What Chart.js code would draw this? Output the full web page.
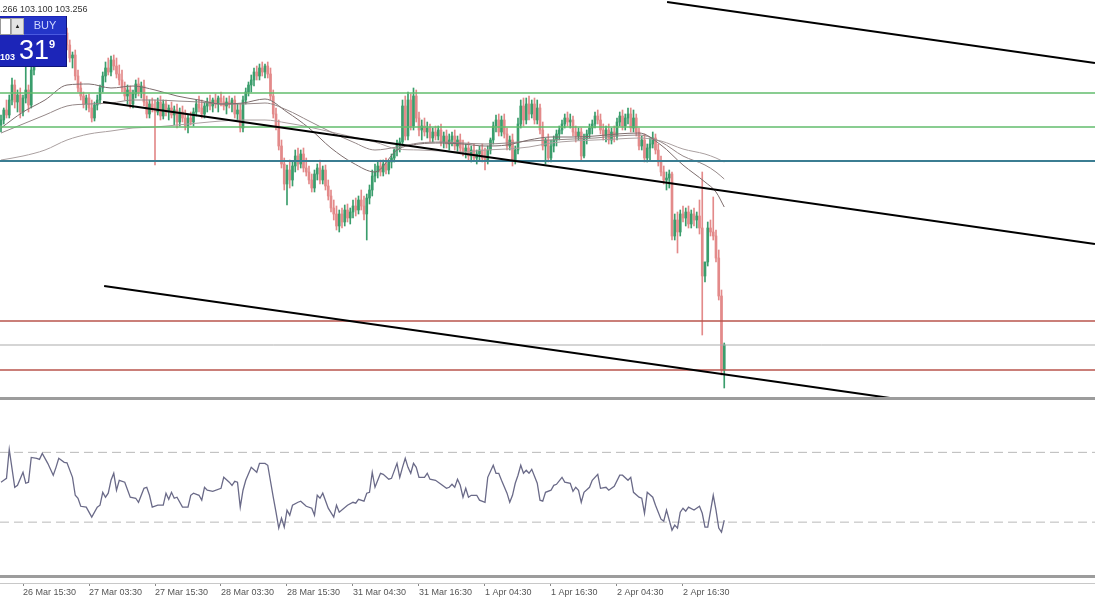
<!DOCTYPE html>
<html>
<head>
<meta charset="utf-8">
<script src="https://cdn.jsdelivr.net/npm/chart.js@4.4.1/dist/chart.umd.min.js"></script>
<style>
  body { margin: 0; background: #fff; width: 1095px; height: 600px; overflow: hidden; position: relative; font-family: 'Liberation Sans', Arial, sans-serif; }
  #main { position: absolute; left: 0; top: 0; }
  #osc { position: absolute; left: 0; top: 400px; }
  .hdr { position: absolute; left: 0; top: 4px; font-size: 9px; color: #333; white-space: nowrap; }
  .trade { position: absolute; left: 0; top: 16px; width: 66px; height: 50px; background: #1c25b8; border-right: 1px solid #0e1478; border-bottom: 1px solid #0e1478; overflow: hidden; }
  .lot { position: absolute; left: 0; top: 2px; width: 9px; height: 15px; background: #fff; border: 1px solid #999; }
  .spin { position: absolute; left: 11px; top: 2px; width: 11px; height: 15px; background: #e4e4e4; border: 1px solid #aaa; font-size: 6px; line-height: 15px; text-align: center; color: #222; }
  .buy { position: absolute; left: 24px; top: 1px; width: 42px; height: 17px; background: #2435c8; border-bottom: 1px solid #4a5ae0; color: #d0d8ff; font-size: 11px; line-height: 17px; text-align: center; }
  .p1 { position: absolute; left: 0; top: 36px; color: #fff; font-size: 9px; font-weight: bold; }
  .p2 { position: absolute; left: 19px; top: 19px; color: #fff; font-size: 27px; }
  .p3 { position: absolute; left: 49px; top: 22px; color: #fff; font-size: 11px; font-weight: bold; }
</style>
</head>
<body>
<canvas id="main" width="1095" height="400"></canvas>
<canvas id="osc" width="1095" height="200"></canvas>
<div class="hdr">.266 103.100 103.256</div>
<div class="trade">
  <div class="lot"></div>
  <div class="spin">&#9650;</div>
  <div class="buy">BUY</div>
  <div class="p1">103</div>
  <div class="p2">31</div>
  <div class="p3">9</div>
</div>
<script>
// ===== PRICE DATA (30 min candles, index = bar number) =====
const opens = [
  102.900, 102.920, 102.960, 102.940, 103.000, 103.060, 102.992, 103.020, 102.952, 103.008,
  103.040, 102.980, 103.120, 103.180, 103.208, 103.192, 103.232, 103.216, 103.256, 103.240,
  103.264, 103.280, 103.260, 103.280, 103.268, 103.220, 103.168, 103.180, 103.096, 103.048,
  103.016, 102.984, 103.008, 102.968, 102.928, 102.980, 103.000, 103.048, 103.096, 103.128,
  103.112, 103.160, 103.136, 103.104, 103.080, 103.048, 103.016, 103.040, 102.984, 103.024,
  103.064, 103.032, 103.056, 102.992, 102.944, 102.984, 102.968, 102.952, 102.992, 102.936,
  102.984, 102.952, 102.968, 102.940, 102.960, 102.912, 102.952, 102.928, 102.896, 102.928,
  102.912, 102.952, 102.984, 102.968, 102.944, 102.976, 102.992, 102.976, 103.000, 102.984,
  103.008, 102.992, 102.976, 102.992, 102.984, 103.000, 102.944, 102.960, 102.888, 103.000,
  103.032, 103.060, 103.080, 103.112, 103.096, 103.128, 103.112, 103.136, 103.104, 103.016,
  102.944, 102.896, 102.816, 102.744, 102.664, 102.720, 102.680, 102.736, 102.776, 102.744,
  102.784, 102.728, 102.712, 102.680, 102.648, 102.704, 102.728, 102.680, 102.720, 102.656,
  102.616, 102.568, 102.544, 102.496, 102.544, 102.512, 102.560, 102.528, 102.552, 102.576,
  102.560, 102.600, 102.576, 102.544, 102.608, 102.640, 102.696, 102.712, 102.736, 102.712,
  102.744, 102.720, 102.752, 102.768, 102.800, 102.820, 102.832, 102.976, 102.856, 103.000,
  102.896, 103.016, 102.928, 102.880, 102.896, 102.872, 102.888, 102.848, 102.872, 102.856,
  102.880, 102.832, 102.856, 102.824, 102.840, 102.856, 102.816, 102.840, 102.808, 102.792,
  102.808, 102.776, 102.800, 102.768, 102.784, 102.800, 102.768, 102.760, 102.800, 102.840,
  102.896, 102.920, 102.872, 102.920, 102.864, 102.816, 102.840, 102.760, 102.800, 102.904,
  102.976, 102.920, 102.984, 102.944, 102.984, 102.920, 102.968, 102.880, 102.816, 102.840,
  102.768, 102.816, 102.840, 102.864, 102.880, 102.904, 102.928, 102.912, 102.920, 102.872,
  102.856, 102.872, 102.776, 102.848, 102.864, 102.888, 102.904, 102.936, 102.920, 102.880,
  102.856, 102.880, 102.840, 102.872, 102.856, 102.912, 102.936, 102.896, 102.928, 102.944,
  102.888, 102.928, 102.872, 102.816, 102.840, 102.768, 102.808, 102.824, 102.848, 102.800,
  102.752, 102.712, 102.680, 102.688, 102.704, 102.456, 102.520, 102.472, 102.544, 102.528,
  102.552, 102.504, 102.544, 102.520, 102.536, 102.488, 102.296, 102.352, 102.488, 102.472,
  102.456, 102.368, 102.216, 101.920
];
const highs = [
  102.940, 102.968, 103.000, 103.020, 103.088, 103.080, 103.040, 103.048, 103.020, 103.148,
  103.060, 103.160, 103.200, 103.220, 103.240, 103.248, 103.260, 103.280, 103.288, 103.280,
  103.300, 103.312, 103.296, 103.304, 103.288, 103.240, 103.192, 103.200, 103.120, 103.072,
  103.032, 103.020, 103.024, 103.000, 102.992, 103.020, 103.060, 103.112, 103.152, 103.168,
  103.176, 103.180, 103.168, 103.140, 103.120, 103.072, 103.060, 103.056, 103.040, 103.080,
  103.088, 103.072, 103.080, 103.016, 103.000, 103.008, 103.000, 103.008, 103.016, 103.000,
  103.000, 102.980, 102.992, 102.976, 102.984, 102.968, 102.976, 102.960, 102.940, 102.952,
  102.968, 103.000, 103.016, 103.000, 102.992, 103.008, 103.020, 103.008, 103.024, 103.016,
  103.032, 103.016, 103.008, 103.016, 103.008, 103.016, 102.984, 102.984, 103.016, 103.048,
  103.072, 103.100, 103.128, 103.136, 103.144, 103.152, 103.144, 103.152, 103.128, 103.040,
  102.968, 102.920, 102.840, 102.768, 102.740, 102.760, 102.752, 102.800, 102.808, 102.800,
  102.808, 102.768, 102.736, 102.704, 102.720, 102.744, 102.760, 102.736, 102.740, 102.680,
  102.640, 102.600, 102.576, 102.560, 102.568, 102.580, 102.584, 102.568, 102.600, 102.608,
  102.616, 102.640, 102.616, 102.624, 102.660, 102.720, 102.744, 102.752, 102.760, 102.760,
  102.768, 102.760, 102.784, 102.808, 102.840, 102.848, 103.000, 103.016, 103.032, 103.024,
  103.048, 103.040, 102.952, 102.920, 102.928, 102.912, 102.904, 102.888, 102.896, 102.896,
  102.904, 102.872, 102.880, 102.864, 102.872, 102.880, 102.856, 102.864, 102.840, 102.824,
  102.832, 102.816, 102.824, 102.800, 102.816, 102.824, 102.808, 102.816, 102.848, 102.912,
  102.940, 102.944, 102.936, 102.944, 102.888, 102.856, 102.864, 102.816, 102.928, 103.000,
  103.008, 103.008, 103.016, 103.000, 103.008, 103.000, 102.984, 102.912, 102.848, 102.864,
  102.840, 102.856, 102.880, 102.896, 102.920, 102.944, 102.952, 102.944, 102.936, 102.896,
  102.888, 102.888, 102.864, 102.880, 102.904, 102.920, 102.952, 102.960, 102.944, 102.904,
  102.896, 102.904, 102.888, 102.896, 102.928, 102.952, 102.960, 102.944, 102.968, 102.968,
  102.960, 102.944, 102.888, 102.856, 102.864, 102.824, 102.848, 102.872, 102.864, 102.824,
  102.776, 102.736, 102.712, 102.720, 102.712, 102.544, 102.552, 102.560, 102.576, 102.568,
  102.576, 102.560, 102.568, 102.552, 102.600, 102.712, 102.352, 102.512, 102.520, 102.612,
  102.480, 102.400, 102.240, 102.028
];
const lows = [
  102.872, 102.904, 102.928, 102.928, 102.980, 102.968, 102.952, 102.928, 102.936, 102.988,
  102.952, 102.968, 103.100, 103.152, 103.168, 103.176, 103.200, 103.192, 103.220, 103.208,
  103.240, 103.248, 103.232, 103.248, 103.200, 103.152, 103.128, 103.080, 103.032, 103.000,
  102.968, 102.960, 102.952, 102.912, 102.916, 102.960, 102.984, 103.032, 103.072, 103.100,
  103.096, 103.120, 103.088, 103.060, 103.032, 103.000, 102.984, 102.968, 102.968, 103.008,
  103.016, 103.008, 102.976, 102.928, 102.928, 102.952, 102.740, 102.940, 102.920, 102.924,
  102.936, 102.920, 102.928, 102.900, 102.888, 102.896, 102.912, 102.880, 102.868, 102.900,
  102.896, 102.936, 102.952, 102.928, 102.928, 102.952, 102.960, 102.952, 102.968, 102.952,
  102.976, 102.960, 102.944, 102.968, 102.952, 102.928, 102.920, 102.872, 102.872, 102.984,
  103.016, 103.032, 103.056, 103.080, 103.080, 103.096, 103.088, 103.088, 103.000, 102.928,
  102.880, 102.800, 102.728, 102.640, 102.580, 102.648, 102.656, 102.712, 102.720, 102.728,
  102.712, 102.696, 102.664, 102.632, 102.632, 102.680, 102.664, 102.664, 102.640, 102.600,
  102.552, 102.520, 102.480, 102.472, 102.488, 102.496, 102.512, 102.504, 102.528, 102.536,
  102.544, 102.560, 102.520, 102.440, 102.584, 102.616, 102.672, 102.688, 102.696, 102.696,
  102.704, 102.704, 102.728, 102.752, 102.776, 102.792, 102.816, 102.840, 102.840, 102.880,
  102.880, 102.912, 102.856, 102.840, 102.856, 102.848, 102.832, 102.832, 102.840, 102.840,
  102.816, 102.808, 102.808, 102.800, 102.816, 102.800, 102.792, 102.792, 102.776, 102.768,
  102.760, 102.752, 102.760, 102.744, 102.760, 102.752, 102.720, 102.744, 102.784, 102.824,
  102.872, 102.856, 102.856, 102.848, 102.800, 102.800, 102.736, 102.744, 102.784, 102.888,
  102.896, 102.904, 102.920, 102.928, 102.904, 102.904, 102.864, 102.800, 102.744, 102.752,
  102.752, 102.792, 102.816, 102.840, 102.864, 102.888, 102.896, 102.888, 102.856, 102.832,
  102.840, 102.760, 102.768, 102.824, 102.848, 102.864, 102.888, 102.904, 102.864, 102.840,
  102.832, 102.824, 102.824, 102.832, 102.840, 102.896, 102.880, 102.880, 102.904, 102.872,
  102.872, 102.856, 102.800, 102.800, 102.752, 102.752, 102.760, 102.808, 102.784, 102.736,
  102.696, 102.664, 102.640, 102.648, 102.440, 102.440, 102.388, 102.456, 102.512, 102.496,
  102.488, 102.488, 102.496, 102.488, 102.464, 102.060, 102.272, 102.336, 102.456, 102.440,
  102.352, 102.200, 101.900, 101.848
];
const closes = [
  102.920, 102.960, 102.940, 103.000, 103.060, 102.992, 103.020, 102.952, 103.008, 103.040,
  102.980, 103.120, 103.180, 103.208, 103.192, 103.232, 103.216, 103.256, 103.240, 103.264,
  103.280, 103.260, 103.280, 103.268, 103.220, 103.168, 103.180, 103.096, 103.048, 103.016,
  102.984, 103.008, 102.968, 102.928, 102.980, 103.000, 103.048, 103.096, 103.128, 103.112,
  103.160, 103.136, 103.104, 103.080, 103.048, 103.016, 103.040, 102.984, 103.024, 103.064,
  103.032, 103.056, 102.992, 102.944, 102.984, 102.968, 102.952, 102.992, 102.936, 102.984,
  102.952, 102.968, 102.940, 102.960, 102.912, 102.952, 102.928, 102.896, 102.928, 102.912,
  102.952, 102.984, 102.968, 102.944, 102.976, 102.992, 102.976, 103.000, 102.984, 103.008,
  102.992, 102.976, 102.992, 102.984, 103.000, 102.944, 102.960, 102.888, 103.000, 103.032,
  103.060, 103.080, 103.112, 103.096, 103.128, 103.112, 103.136, 103.104, 103.016, 102.944,
  102.896, 102.816, 102.744, 102.664, 102.720, 102.680, 102.736, 102.776, 102.744, 102.784,
  102.728, 102.712, 102.680, 102.648, 102.704, 102.728, 102.680, 102.720, 102.656, 102.616,
  102.568, 102.544, 102.496, 102.544, 102.512, 102.560, 102.528, 102.552, 102.576, 102.560,
  102.600, 102.576, 102.544, 102.608, 102.640, 102.696, 102.712, 102.736, 102.712, 102.744,
  102.720, 102.752, 102.768, 102.800, 102.820, 102.832, 102.976, 102.856, 103.000, 102.896,
  103.016, 102.928, 102.880, 102.896, 102.872, 102.888, 102.848, 102.872, 102.856, 102.880,
  102.832, 102.856, 102.824, 102.840, 102.856, 102.816, 102.840, 102.808, 102.792, 102.808,
  102.776, 102.800, 102.768, 102.784, 102.800, 102.768, 102.760, 102.800, 102.840, 102.896,
  102.920, 102.872, 102.920, 102.864, 102.816, 102.840, 102.760, 102.800, 102.904, 102.976,
  102.920, 102.984, 102.944, 102.984, 102.920, 102.968, 102.880, 102.816, 102.840, 102.768,
  102.816, 102.840, 102.864, 102.880, 102.904, 102.928, 102.912, 102.920, 102.872, 102.856,
  102.872, 102.776, 102.848, 102.864, 102.888, 102.904, 102.936, 102.920, 102.880, 102.856,
  102.880, 102.840, 102.872, 102.856, 102.912, 102.936, 102.896, 102.928, 102.944, 102.888,
  102.928, 102.872, 102.816, 102.840, 102.768, 102.808, 102.824, 102.848, 102.800, 102.752,
  102.712, 102.680, 102.688, 102.704, 102.456, 102.520, 102.472, 102.544, 102.528, 102.552,
  102.504, 102.544, 102.520, 102.536, 102.488, 102.296, 102.352, 102.488, 102.472, 102.456,
  102.368, 102.216, 101.920, 102.020
];

// ===== MOVING AVERAGES (read at every 8th bar) =====
const maBars = [0, 8, 16, 24, 32, 40, 48, 56, 64, 72, 80, 88, 96, 104, 112, 120, 128, 136, 144,
  152, 160, 168, 176, 184, 192, 200, 208, 216, 224, 232, 240, 248, 256, 260, 263];
const maFast = [102.888, 102.952, 103.000, 103.060, 103.064, 103.048, 103.056, 103.040, 103.016,
  103.000, 102.984, 102.988, 103.004, 102.952, 102.888, 102.808, 102.748, 102.712, 102.800, 102.824,
  102.828, 102.824, 102.816, 102.820, 102.840, 102.852, 102.852, 102.856, 102.864, 102.868, 102.820,
  102.740, 102.672, 102.632, 102.572];
const maMid = [102.868, 102.904, 102.940, 102.976, 102.984, 102.988, 103.000, 103.000, 102.996,
  102.992, 102.984, 102.984, 102.988, 102.960, 102.916, 102.872, 102.832, 102.800, 102.812, 102.828,
  102.832, 102.828, 102.824, 102.828, 102.836, 102.840, 102.844, 102.848, 102.856, 102.860, 102.832,
  102.776, 102.740, 102.712, 102.684];
const maSlow = [102.760, 102.776, 102.800, 102.840, 102.864, 102.876, 102.888, 102.892, 102.900,
  102.908, 102.916, 102.920, 102.920, 102.908, 102.892, 102.872, 102.852, 102.832, 102.804, 102.800,
  102.796, 102.792, 102.800, 102.804, 102.812, 102.828, 102.836, 102.840, 102.844, 102.848, 102.836,
  102.804, 102.784, 102.768, 102.752];

// ===== DRAWN OBJECTS =====
const levelPrices = [103.028, 102.892, 102.756, 102.116, 102.020, 101.920];
const trendBars = [[242.2, 397.8], [37.1, 397.8], [37.5, 323.3]];
const trendPrices = [[103.392, 103.148], [102.992, 102.424], [102.256, 101.808]];

// ===== OSCILLATOR =====
const rsiBars = [0, 1, 2, 3, 5, 6, 8, 9, 10, 11, 13, 14, 15, 17, 19, 20, 21, 23, 24, 26, 27, 28, 29,
  31, 33, 35, 36, 37, 38, 39, 40, 41, 42, 43, 45, 47, 49, 50, 52, 53, 54, 55, 57, 59, 60, 61, 62, 63,
  64, 66, 68, 69, 70, 72, 73, 74, 75, 77, 80, 81, 83, 84, 85, 86, 87, 88, 89, 91, 93, 94, 96, 97, 99,
  100, 101, 102, 103, 104, 105, 106, 108, 109, 111, 113, 114, 115, 116, 117, 119, 121, 122, 123, 126,
  128, 129, 130, 132, 133, 134, 135, 136, 137, 138, 139, 141, 142, 144, 145, 146, 147, 148, 149, 150,
  151, 152, 154, 155, 156, 158, 160, 162, 163, 164, 165, 166, 167, 168, 169, 170, 171, 173, 174, 176,
  177, 179, 180, 181, 182, 184, 185, 186, 187, 188, 189, 190, 191, 192, 193, 195, 196, 197, 198, 200,
  201, 202, 204, 205, 207, 208, 209, 210, 211, 212, 214, 215, 217, 218, 220, 221, 223, 225, 226, 228,
  229, 230, 232, 233, 234, 235, 237, 238, 240, 241, 242, 244, 245, 246, 247, 248, 249, 250, 252, 254,
  255, 256, 257, 259, 260, 261, 262, 263];
const rsiVals = [52.9, 54.0, 55.1, 71.7, 50.0, 51.1, 58.6, 52.3, 52.9, 67.1, 66.6, 66.0, 69.4, 63.7,
  56.9, 61.4, 66.6, 64.3, 64.0, 55.7, 45.4, 43.7, 39.1, 38.6, 32.9, 38.6, 39.7, 47.1, 44.3, 46.6, 54.0,
  58.0, 48.3, 54.0, 52.9, 44.3, 43.7, 41.4, 49.4, 50.0, 45.4, 38.6, 39.7, 39.7, 46.6, 43.1, 47.1, 43.7,
  44.3, 38.6, 38.6, 45.4, 46.6, 45.4, 42.6, 50.0, 48.3, 47.7, 49.4, 55.7, 52.9, 51.1, 53.4, 52.9, 38.6,
  48.3, 54.0, 61.4, 58.6, 63.7, 63.7, 62.6, 44.3, 35.7, 26.6, 32.3, 27.1, 36.9, 34.0, 39.7, 41.4, 42.0,
  39.1, 38.0, 34.0, 45.4, 43.7, 46.6, 38.0, 32.9, 39.7, 35.7, 39.7, 41.4, 40.9, 43.1, 42.0, 46.6, 47.1,
  58.6, 50.0, 54.0, 58.0, 57.4, 54.6, 55.1, 63.7, 55.7, 61.4, 66.6, 61.4, 58.0, 63.7, 61.4, 55.7, 55.7,
  58.0, 54.6, 54.0, 51.7, 49.4, 50.0, 51.7, 50.0, 54.6, 51.1, 44.3, 49.4, 44.3, 45.4, 45.4, 42.6, 41.4,
  55.7, 62.6, 58.0, 58.0, 54.0, 46.6, 41.4, 45.4, 52.3, 56.9, 62.6, 58.0, 59.7, 58.0, 60.3, 52.3, 42.6,
  42.0, 47.1, 48.3, 51.1, 51.7, 55.7, 52.9, 52.3, 47.7, 50.0, 48.3, 41.4, 47.1, 50.0, 54.0, 57.4, 49.4,
  50.0, 48.3, 50.6, 56.9, 56.9, 54.0, 55.7, 47.1, 44.3, 43.7, 35.1, 47.1, 44.3, 39.7, 31.7, 30.6, 36.9,
  25.4, 28.3, 26.6, 35.7, 38.0, 36.3, 38.6, 36.9, 39.1, 35.1, 27.1, 27.1, 45.4, 36.9, 26.6, 24.3, 31.1];
const rsiLevels = [70, 30];

// ===== TIME AXIS =====
const tickBars = [8, 32, 56, 80, 104, 128, 152, 176, 200, 224, 248];
const tickLabels = ['26 Mar 15:30', '27 Mar 03:30', '27 Mar 15:30', '28 Mar 03:30', '28 Mar 15:30',
  '31 Mar 04:30', '31 Mar 16:30', '1 Apr 04:30', '1 Apr 16:30', '2 Apr 04:30', '2 Apr 16:30'];

// ===== STYLE =====
const COLORS = {
  up: '#3a9d6c',
  down: '#e38a8a',
  levels: ['#62bd6c', '#62bd6c', '#3b7d92', '#b8544c', '#ababab', '#b8544c'],
  ma: ['#7d6d6d', '#958888', '#aaa0a0'],
  rsi: '#6a6a88',
  band: '#9c9c9c',
  text: '#555',
};
const levelWidths = [1.5, 1.5, 2, 1.5, 1, 1.5];
const X_MIN = -0.364;
const X_MAX = 397.82;

const band = (y, h) => ({
  id: 'band',
  afterDraw(chart) {
    const c = chart.ctx;
    c.save();
    c.fillStyle = COLORS.band;
    c.fillRect(0, y, chart.width, h);
    c.restore();
  },
});

const candleColors = closes.map((c, i) => (c >= opens[i] ? COLORS.up : COLORS.down));

const lineDs = (data, color, width, order) => ({
  type: 'line', data, borderColor: color, borderWidth: width, pointRadius: 0, order,
});

// ===== MAIN PRICE CHART =====
new Chart(document.getElementById('main'), {
  type: 'bar',
  data: {
    datasets: [
      ...trendBars.map((b, k) => lineDs(
        [{ x: b[0], y: trendPrices[k][0] }, { x: b[1], y: trendPrices[k][1] }], '#000', 2, 0)),
      ...levelPrices.map((p, k) => lineDs(
        [{ x: X_MIN, y: p }, { x: X_MAX, y: p }], COLORS.levels[k], levelWidths[k], 1)),
      ...[maFast, maMid, maSlow].map((m, k) => ({
        ...lineDs(m.map((v, j) => ({ x: maBars[j], y: v })), COLORS.ma[k], 1, 2),
        cubicInterpolationMode: 'monotone',
      })),
      {
        type: 'bar',
        data: opens.map((o, i) => ({ x: i, y: [o, closes[i]] })),
        backgroundColor: candleColors,
        barThickness: 2,
        minBarLength: 1,
        grouped: false,
        order: 3,
      },
      {
        type: 'bar',
        data: lows.map((l, i) => ({ x: i, y: [l, highs[i]] })),
        backgroundColor: candleColors,
        barThickness: 1,
        grouped: false,
        order: 4,
      },
    ],
  },
  options: {
    responsive: false,
    animation: false,
    events: [],
    layout: { padding: { bottom: 2 } },
    plugins: { legend: { display: false }, tooltip: { enabled: false } },
    scales: {
      x: { type: 'linear', display: false, min: X_MIN, max: X_MAX, offset: false },
      y: { display: false, min: 101.808, max: 103.4 },
    },
  },
  plugins: [band(397, 3)],
});

// ===== OSCILLATOR PANEL =====
new Chart(document.getElementById('osc'), {
  type: 'line',
  data: {
    datasets: [
      lineDs(rsiBars.map((b, j) => ({ x: b, y: rsiVals[j] })), COLORS.rsi, 1.3, 0),
      ...rsiLevels.map((v) => ({
        ...lineDs([{ x: X_MIN, y: v }, { x: X_MAX, y: v }], '#b9b9b9', 1, 1),
        borderDash: [9, 5],
      })),
    ],
  },
  options: {
    responsive: false,
    animation: false,
    events: [],
    layout: { padding: 0 },
    plugins: { legend: { display: false }, tooltip: { enabled: false } },
    scales: {
      x: {
        type: 'linear',
        min: X_MIN,
        max: X_MAX,
        offset: false,
        bounds: 'data',
        afterBuildTicks: (s) => { s.ticks = tickBars.map((v) => ({ value: v })); },
        afterFit: (s) => { s.height = 17; },
        ticks: {
          autoSkip: false,
          maxRotation: 0,
          align: 'start',
          padding: 1,
          color: COLORS.text,
          font: { family: 'Liberation Sans', size: 9 },
          callback: (v, i) => tickLabels[i],
        },
        grid: { drawOnChartArea: false, drawTicks: true, tickLength: 3, color: '#888' },
        border: { color: '#c8c8c8', width: 1 },
      },
      y: { display: false, min: -4.87, max: 100 },
    },
  },
  plugins: [band(175, 3)],
});
</script>
</body>
</html>
